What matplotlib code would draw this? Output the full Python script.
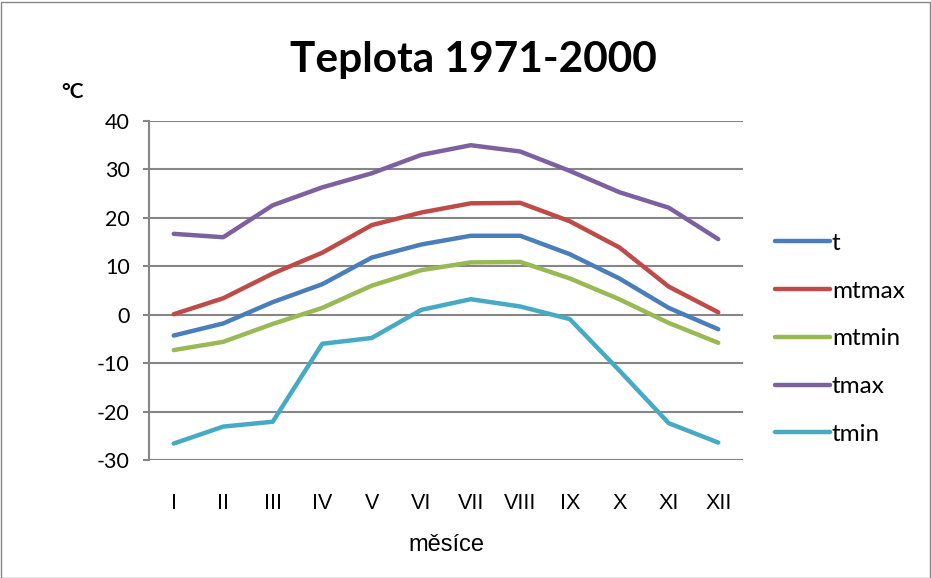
import numpy as np
import matplotlib.pyplot as plt
from matplotlib.patches import Rectangle

plt.rcParams["axes.unicode_minus"] = False

months = ["I", "II", "III", "IV", "V", "VI", "VII", "VIII", "IX", "X", "XI", "XII"]
t = [-4.3, -1.8, 2.6, 6.3, 11.8, 14.5, 16.3, 16.3, 12.5, 7.5, 1.4, -3.0]
mtmax = [0.1, 3.4, 8.5, 12.8, 18.5, 21.1, 23.0, 23.1, 19.3, 13.9, 5.8, 0.5]
mtmin = [-7.3, -5.6, -1.9, 1.4, 6.0, 9.2, 10.8, 10.9, 7.5, 3.2, -1.7, -5.8]
tmax = [16.7, 16.0, 22.6, 26.3, 29.2, 33.0, 35.0, 33.7, 29.7, 25.3, 22.1, 15.6]
tmin = [-26.6, -23.1, -22.1, -6.0, -4.8, 1.0, 3.2, 1.7, -0.9, -11.5, -22.4, -26.4]

series = [("t", t, "#4A7EBB"), ("mtmax", mtmax, "#BE4B48"), ("mtmin", mtmin, "#98B954"),
          ("tmax", tmax, "#7D60A0"), ("tmin", tmin, "#46AAC5")]

W, H = 931, 578
fig = plt.figure(figsize=(W / 100, H / 100), dpi=100)
ax = fig.add_axes([149 / W, 1 - 460 / H, (743 - 149) / W, (460 - 121) / H])

x = np.arange(len(months))
for name, vals, col in series:
    ax.plot(x, vals, color=col, lw=3.2, label=name, solid_capstyle="round", solid_joinstyle="round")

ax.set_xlim(-0.5, len(months) - 0.5)
ax.set_ylim(-30, 40)
ax.set_yticks(range(-30, 41, 10))
ax.set_xticks(x)
ax.set_xticklabels(months, fontfamily="Liberation Sans", fontsize=15.5)
for lab in ax.get_yticklabels():
    lab.set_fontfamily("Lato")
    lab.set_fontsize(15.5)
ax.grid(axis="y", color="#868686", lw=1.5)
ax.set_axisbelow(True)
for s in ["top", "right", "bottom"]:
    ax.spines[s].set_visible(False)
ax.spines["left"].set_color("#868686")
ax.spines["left"].set_linewidth(1.5)
ax.axhline(-30, color="#868686", lw=1.5, zorder=0)
ax.tick_params(axis="y", length=4, width=1.5, color="#868686", pad=10)
ax.tick_params(axis="x", length=0, pad=24)

ax.set_xlabel("měsíce", fontfamily="Liberation Sans", fontsize=17, labelpad=14)

fig.text(473 / W, 1 - 60 / H, "Teplota 1971-2000", ha="center", va="center",
         fontfamily="Lato", fontweight="bold", fontsize=30.5)
fig.text(73 / W, 1 - 92 / H, "°C", ha="center", va="center",
         fontfamily="Lato", fontweight="bold", fontsize=15)

fig.legend(loc="upper left", bbox_to_anchor=(753 / W, 1 - 211 / H), frameon=False,
           prop={"family": "Lato", "size": 17.5}, handlelength=2.26, handletextpad=0.08,
           labelspacing=1.1)

fig.patches.append(Rectangle((0.5 / W, 0.5 / H), 1 - 2 / W, 1 - 2 / H, transform=fig.transFigure,
                             fill=False, edgecolor="#868686", lw=1))

fig.savefig("out.png", dpi=100)
